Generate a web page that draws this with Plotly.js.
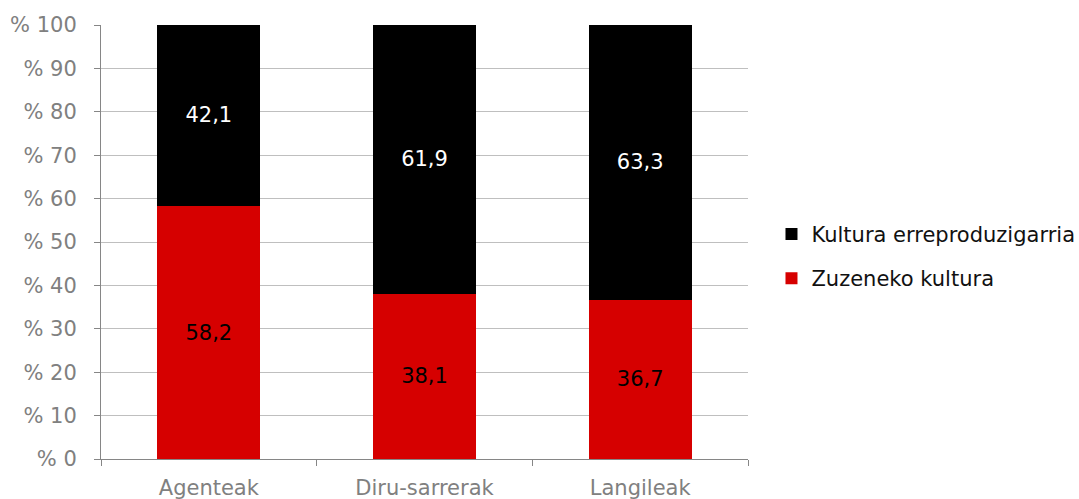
<!DOCTYPE html>
<html>
<head>
<meta charset="utf-8">
<script src="https://cdn.plot.ly/plotly-3.0.1.min.js"></script>
<style>html,body{margin:0;padding:0;background:#fff}#chart{width:1079px;height:499px}</style>
</head>
<body>
<div id="chart"></div>
<script>
const categories = ["Agenteak", "Diru-sarrerak", "Langileak"];
const zuzenekoKultura = [58.2, 38.1, 36.7];
const kulturaErreproduzigarria = [42.1, 61.9, 63.3];
const yTickVals = [0, 10, 20, 30, 40, 50, 60, 70, 80, 90, 100];
const yTickText = yTickVals.map(v => "% " + v);

const font = "DejaVu Sans, Verdana, sans-serif";

const traces = [
  {
    type: "bar", name: "Zuzeneko kultura", x: categories, y: zuzenekoKultura,
    legendgroup: "a", legendrank: 2,
    marker: {color: "#d60000"},
    texttemplate: "%{y:.1f}", textposition: "inside", insidetextanchor: "middle",
    textfont: {family: font, size: 21, color: "#000000"}, hoverinfo: "none"
  },
  {
    type: "bar", name: "Kultura erreproduzigarria", x: categories, y: kulturaErreproduzigarria,
    legendgroup: "b", legendrank: 1,
    marker: {color: "#000000"},
    texttemplate: "%{y:.1f}", textposition: "inside", insidetextanchor: "middle",
    textfont: {family: font, size: 21, color: "#ffffff"}, hoverinfo: "none"
  }
];

const layout = {
  width: 1079, height: 499,
  margin: {l: 101, r: 331, t: 25, b: 40, autoexpand: false},
  barmode: "stack", bargap: 0.523,
  separators: ", ",
  paper_bgcolor: "#ffffff", plot_bgcolor: "#ffffff",
  font: {family: font, size: 21, color: "#808080"},
  showlegend: true,
  legend: {
    xref: "container", x: 0.715, xanchor: "left",
    yref: "paper", y: 0.467, yanchor: "middle",
    traceorder: "grouped", tracegroupgap: 14,
    font: {family: font, size: 21, color: "#111111"},
    itemwidth: 30
  },
  xaxis: {
    type: "category", showgrid: false, showline: true, linecolor: "#868686", linewidth: 1,
    ticks: "outside", tickson: "boundaries", ticklen: 6, tickcolor: "#868686",
    ticklabelstandoff: 10,
    tickfont: {family: font, size: 21, color: "#808080"}
  },
  yaxis: {
    range: [0, 100], tickvals: yTickVals, ticktext: yTickText,
    showgrid: true, gridcolor: "#bfbfbf", gridwidth: 1,
    showline: true, linecolor: "#868686", linewidth: 1,
    ticks: "outside", ticklen: 6, tickcolor: "#868686",
    ticklabelstandoff: 13,
    tickfont: {family: font, size: 21, color: "#808080"}, zeroline: false
  }
};

Plotly.newPlot("chart", traces, layout, {staticPlot: true, displayModeBar: false});
</script>
</body>
</html>
